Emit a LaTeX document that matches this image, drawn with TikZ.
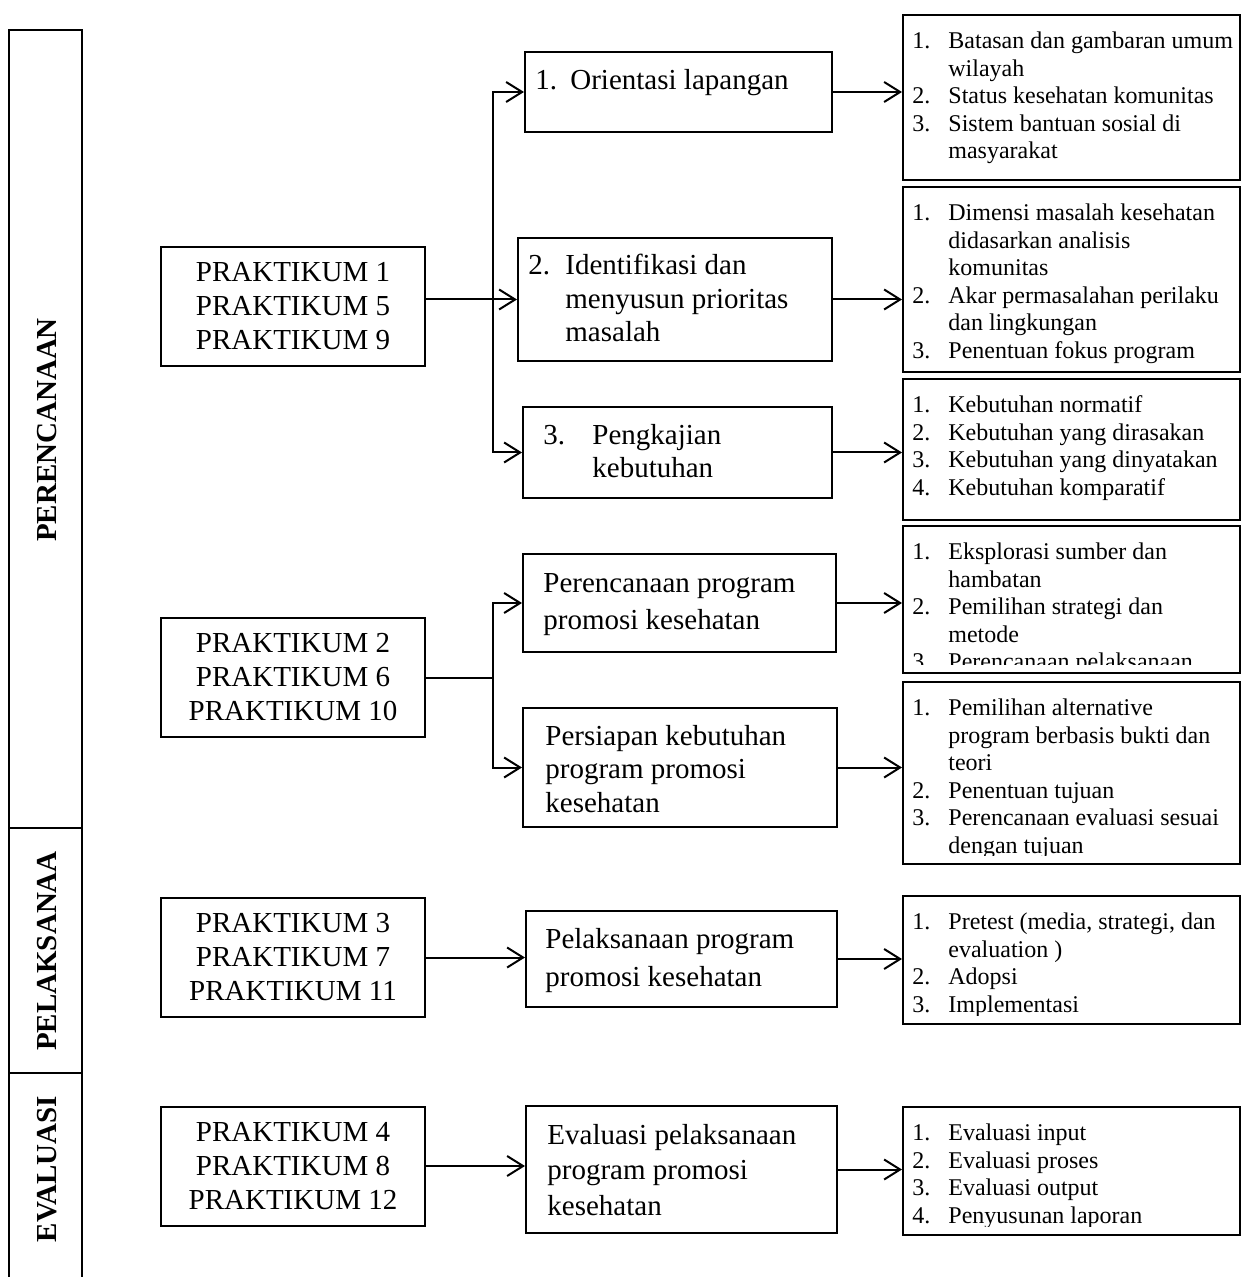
\documentclass[tikz,border=0pt]{standalone}
\usepackage{fontspec}
\setmainfont{Liberation Serif}
\usetikzlibrary{arrows.meta,positioning,calc}

\tikzset{
	garis/.style={line width=1pt},
	kotak/.style={draw, line width=1pt, inner sep=0pt},
	prak/.style={kotak, minimum width=132pt, minimum height=59.5pt, align=center, font=\fontsize{14.5}{17}\selectfont},
	judul/.style={anchor=base west, inner sep=0pt, align=left, font=\fontsize{14.5}{17}\selectfont},
	isi/.style={anchor=base west, inner sep=0pt, align=left, font=\fontsize{12}{13.8}\selectfont},
	fase/.style={rotate=90, inner sep=0pt, font=\fontsize{14.5}{17}\selectfont\bfseries},
	panah/.style={line width=1pt, -{Straight Barb[length=8pt,width=10pt]}}
}
\newcommand{\butir}[1]{\makebox[18pt][l]{#1}}
\newcommand{\sambung}{\hspace*{18pt}}

\begin{document}
\begin{tikzpicture}[x=0.5pt,y=-0.5pt]
	\useasboundingbox (0,0) rectangle (1241,1277);
	
	% kolom tahap
	\draw[garis] (9,30) rectangle (82,1300);
	\draw[garis] (9,828) -- (82,828);
	\draw[garis] (9,1073) -- (82,1073);
	\node[fase] (perencanaan) at (47,430) {PERENCANAAN};
	\node[fase] (pelaksanaan) at (47,951) {PELAKSANAA};
	\node[fase] (evaluasi) at (47,1169) {EVALUASI};
	
	% praktikum
	\node[prak] (p1) at (293,306.5) {PRAKTIKUM 1\\PRAKTIKUM 5\\PRAKTIKUM 9};
	\node[prak] (p2) at (293,677.5) {PRAKTIKUM 2\\PRAKTIKUM 6\\PRAKTIKUM 10};
	\node[prak] (p3) at (293,957.5) {PRAKTIKUM 3\\PRAKTIKUM 7\\PRAKTIKUM 11};
	\node[prak] (p4) at (293,1166) {PRAKTIKUM 4\\PRAKTIKUM 8\\PRAKTIKUM 12};
	
	% kegiatan (teks diletakkan pada garis dasar baris terakhir)
	\node[kotak, minimum width=153.5pt, minimum height=40pt] (m1) at (678.5,92) {};
	\node[judul] (m1t) at (535,90) {\makebox[17.5pt][l]{1.}Orientasi lapangan};
	\node[kotak, minimum width=157pt, minimum height=61.5pt] (m2) at (675,299.5) {};
	\node[judul, font=\fontsize{14.5}{16.75}\selectfont] (m2t) at (528,342)
		{\makebox[18.5pt][l]{2.}Identifikasi dan\\\hspace*{18.5pt}menyusun prioritas\\\hspace*{18.5pt}masalah};
	\node[kotak, minimum width=154.5pt, minimum height=45.5pt] (m3) at (677.5,452.5) {};
	\node[judul, font=\fontsize{14.5}{16.5}\selectfont] (m3t) at (543,478)
		{\makebox[24.5pt][l]{3.}Pengkajian\\\hspace*{24.5pt}kebutuhan};
	\node[kotak, minimum width=156.5pt, minimum height=49pt] (m4) at (679.5,603) {};
	\node[judul, font=\fontsize{14.5}{18.5}\selectfont] (m4t) at (543,629) {Perencanaan program\\promosi kesehatan};
	\node[kotak, minimum width=157pt, minimum height=59.5pt] (m5) at (680,767.5) {};
	\node[judul, font=\fontsize{14.5}{16.75}\selectfont] (m5t) at (545,812) {Persiapan kebutuhan\\program promosi\\kesehatan};
	\node[kotak, minimum width=155.5pt, minimum height=48pt] (m6) at (681.5,959) {};
	\node[judul, font=\fontsize{14.5}{19}\selectfont] (m6t) at (545,986) {Pelaksanaan program\\promosi kesehatan};
	\node[kotak, minimum width=155.5pt, minimum height=63.5pt] (m7) at (681.5,1169.5) {};
	\node[judul, font=\fontsize{14.5}{17.75}\selectfont] (m7t) at (547,1215) {Evaluasi pelaksanaan\\program promosi\\kesehatan};
	
	% rincian
	\node[kotak, minimum width=168.5pt, minimum height=82.5pt] (r1) at (1071.5,97.5) {};
	\begin{scope}
		\clip (r1.north west) rectangle ([yshift=5pt]r1.south east);
		\node[isi] (r1t) at (912,158.9) {\butir{1.}Batasan dan gambaran umum\\\sambung wilayah\\
			\butir{2.}Status kesehatan komunitas\\\butir{3.}Sistem bantuan sosial di\\\sambung masyarakat};
	\end{scope}
	\node[kotak, minimum width=168.5pt, minimum height=92.5pt] (r2) at (1071.5,279.5) {};
	\begin{scope}
		\clip (r2.north west) rectangle ([yshift=1.5pt]r2.south east);
		\node[isi] (r2t) at (912,358.5) {\butir{1.}Dimensi masalah kesehatan\\\sambung didasarkan analisis\\\sambung komunitas\\
			\butir{2.}Akar permasalahan perilaku\\\sambung dan lingkungan\\\butir{3.}Penentuan fokus program};
	\end{scope}
	\node[kotak, minimum width=168.5pt, minimum height=70.5pt] (r3) at (1071.5,449.5) {};
	\begin{scope}
		\clip (r3.north west) rectangle ([yshift=5pt]r3.south east);
		\node[isi] (r3t) at (912,495.3) {\butir{1.}Kebutuhan normatif\\\butir{2.}Kebutuhan yang dirasakan\\
			\butir{3.}Kebutuhan yang dinyatakan\\\butir{4.}Kebutuhan komparatif};
	\end{scope}
	\node[kotak, minimum width=168.5pt, minimum height=73.5pt] (r4) at (1071.5,599.5) {};
	\begin{scope}
		\clip (r4.north west) rectangle ([yshift=5pt]r4.south east);
		\node[isi] (r4t) at (912,669.9) {\butir{1.}Eksplorasi sumber dan\\\sambung hambatan\\
			\butir{2.}Pemilihan strategi dan\\\sambung metode\\\butir{3.}Perencanaan pelaksanaan};
	\end{scope}
	\node[kotak, minimum width=168.5pt, minimum height=91pt] (r5) at (1071.5,773) {};
	\begin{scope}
		\clip (r5.north west) rectangle ([yshift=5pt]r5.south east);
		\node[isi] (r5t) at (912,853.5) {\butir{1.}Pemilihan alternative\\\sambung program berbasis bukti dan\\\sambung teori\\
			\butir{2.}Penentuan tujuan\\\butir{3.}Perencanaan evaluasi sesuai\\\sambung dengan tujuan};
	\end{scope}
	\node[kotak, minimum width=168.5pt, minimum height=64pt] (r6) at (1071.5,960) {};
	\begin{scope}
		\clip (r6.north west) rectangle ([yshift=5pt]r6.south east);
		\node[isi] (r6t) at (912,1012.3) {\butir{1.}Pretest (media, strategi, dan\\\sambung evaluation )\\
			\butir{2.}Adopsi\\\butir{3.}Implementasi};
	\end{scope}
	\node[kotak, minimum width=168.5pt, minimum height=64pt] (r7) at (1071.5,1171) {};
	\begin{scope}
		\clip (r7.north west) rectangle ([yshift=5pt]r7.south east);
		\node[isi] (r7t) at (912,1223.3) {\butir{1.}Evaluasi input\\\butir{2.}Evaluasi proses\\
			\butir{3.}Evaluasi output\\\butir{4.}Penyusunan laporan};
	\end{scope}
	
	% panah
	\coordinate (j1) at (493,0);
	\draw[panah] (p1.east |- m2.west) -- (m2.west);
	\draw[panah] (j1 |- m3.west) -- (j1 |- m1.west) -- (m1.west);
	\draw[panah] (j1 |- m2.west) -- (j1 |- m3.west) -- (m3.west);
	\draw[garis] (p2.east) -- (j1 |- p2.east);
	\draw[panah] (j1 |- m5.west) -- (j1 |- m4.west) -- (m4.west);
	\draw[panah] (j1 |- m4.west) -- (j1 |- m5.west) -- (m5.west);
	\draw[panah] (p3.east) -- (p3.east -| m6.west);
	\draw[panah] (p4.east) -- (p4.east -| m7.west);
	
	\draw[panah] (m1.east) -- (m1.east -| r1.west);
	\draw[panah] (m2.east) -- (m2.east -| r2.west);
	\draw[panah] (m3.east) -- (m3.east -| r3.west);
	\draw[panah] (m4.east) -- (m4.east -| r4.west);
	\draw[panah] (m5.east) -- (m5.east -| r5.west);
	\draw[panah] (m6.east) -- (m6.east -| r6.west);
	\draw[panah] (m7.east) -- (m7.east -| r7.west);
\end{tikzpicture}
\end{document}
